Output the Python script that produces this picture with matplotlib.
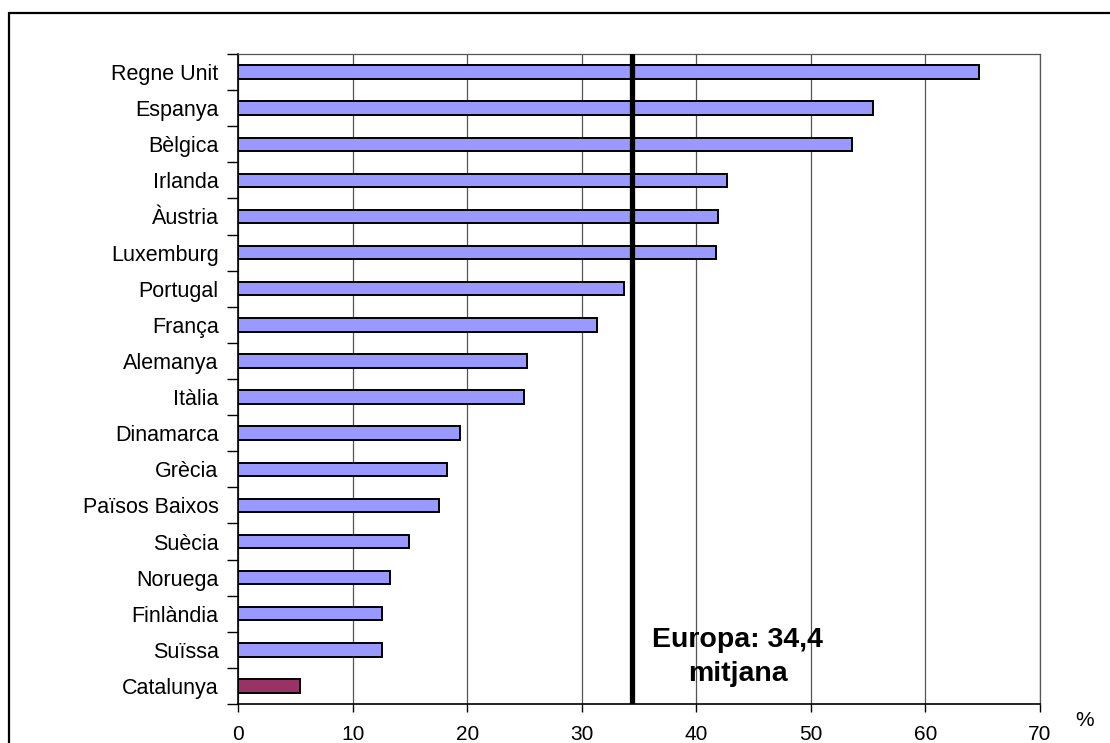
import matplotlib
matplotlib.use('Agg')
from matplotlib import pyplot as plt
from matplotlib.patches import Rectangle

plt.rcParams['font.family'] = ['Liberation Sans', 'DejaVu Sans']

# dades (percentatge)
paisos = ['Regne Unit', 'Espanya', 'Bèlgica', 'Irlanda', 'Àustria', 'Luxemburg',
          'Portugal', 'França', 'Alemanya', 'Itàlia', 'Dinamarca', 'Grècia',
          'Països Baixos', 'Suècia', 'Noruega', 'Finlàndia', 'Suïssa', 'Catalunya']
valors = [64.7, 55.4, 53.6, 42.7, 41.9, 41.7, 33.7, 31.3, 25.2, 25.0,
          19.4, 18.2, 17.5, 14.95, 13.3, 12.6, 12.6, 5.4]
mitjana_europa = 34.4
x_ticks = [0, 10, 20, 30, 40, 50, 60, 70]

colors = ['#9999FF'] * (len(paisos) - 1) + ['#993366']

fig = plt.figure(figsize=(11.1, 7.43), dpi=100)
ax = fig.add_axes([238 / 1110, 1 - 704 / 743, 802 / 1110, 650 / 743])

# marc exterior
fig.patches.append(Rectangle((9 / 1110, -0.05), 1.2, 1 - 13 / 743 + 0.05,
                             transform=fig.transFigure, fill=False,
                             edgecolor='black', linewidth=1.6, zorder=0))

n = len(paisos)
pos = list(range(n - 1, -1, -1))
ax.barh(pos, valors, height=0.37, color=colors, edgecolor='black',
        linewidth=1.4, zorder=2)
ax.axvline(mitjana_europa, color='black', linewidth=3.8, zorder=3)

ax.set_xlim(0, 70)
ax.set_ylim(-0.5, n - 0.5)
ax.set_xticks(x_ticks)
ax.set_xticklabels([str(t) for t in x_ticks])
ax.xaxis.grid(True, color='#555555', linewidth=0.9, zorder=0)
ax.set_axisbelow(True)

# etiquetes al centre, marques als límits
ax.set_yticks(pos)
ax.set_yticklabels(paisos)
ax.set_yticks([i - 0.5 for i in range(n + 1)], minor=True)
ax.tick_params(axis='y', which='major', length=0, pad=14, labelsize=15.5)
ax.tick_params(axis='y', which='minor', length=8, width=1, direction='out')
ax.tick_params(axis='x', length=6, width=1, direction='out', pad=9,
               labelsize=15)

for s in ['left', 'bottom']:
    ax.spines[s].set_color('black')
    ax.spines[s].set_linewidth(1.2)
for s in ['top', 'right']:
    ax.spines[s].set_color('#555555')
    ax.spines[s].set_linewidth(0.9)

ax.text(43.6, 1.08, 'Europa: 34,4', ha='center', va='baseline',
        fontsize=20.5, fontweight='bold', zorder=4)
ax.text(43.6, 0.14, 'mitjana', ha='center', va='baseline',
        fontsize=20.5, fontweight='bold', zorder=4)
fig.text(1085 / 1110, 1 - 720 / 743, '%', ha='center', va='center', fontsize=15)

fig.savefig('out.png', dpi=100)
